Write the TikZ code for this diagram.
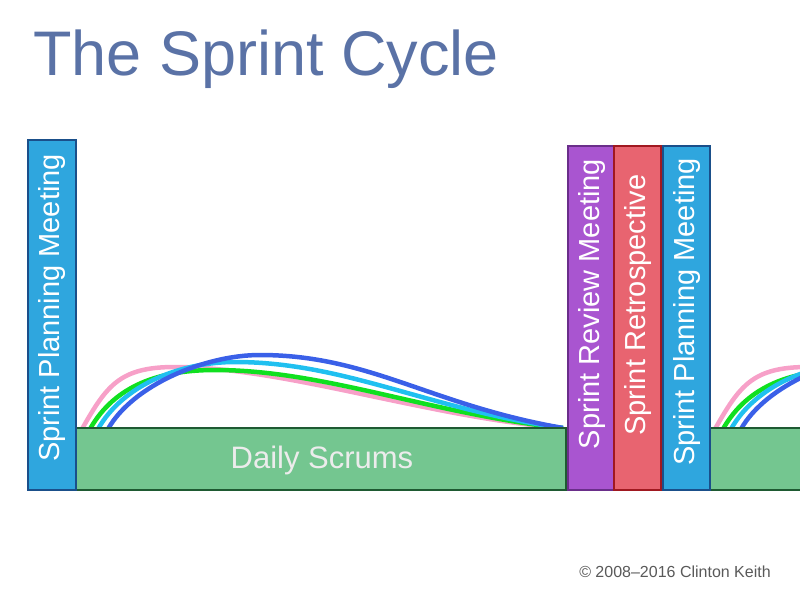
\documentclass[tikz,border=0pt]{standalone}
\usepackage{fontspec}
\setmainfont{Liberation Sans}
\begin{document}
\begin{tikzpicture}[x=1pt,y=-1pt,
  bar/.style={line width=2.5pt},
  vt/.style={rotate=90,text=white,font=\fontsize{29}{29}\selectfont,inner sep=0pt},
  cv/.style={line width=4.5pt}]
\useasboundingbox (0,0) rectangle (800,600);
\definecolor{gfill}{HTML}{74C690}\definecolor{gline}{HTML}{1E5A32}
\definecolor{bfill}{HTML}{2FA6DE}\definecolor{bline}{HTML}{1A4F8A}
\definecolor{pfill}{HTML}{A955D0}\definecolor{pline}{HTML}{6A2E8A}
\definecolor{rfill}{HTML}{E86470}\definecolor{rline}{HTML}{A01820}
\definecolor{pink}{HTML}{F7A0C8}\definecolor{grn}{HTML}{10E020}
\definecolor{cyn}{HTML}{20C0F0}\definecolor{blu}{HTML}{3A60E8}
\definecolor{tcol}{HTML}{5A72A6}
\node[anchor=base west,inner sep=0pt,text=tcol,font=\fontsize{63}{63}\selectfont] (title) at (33,75) {The Sprint Cycle};
\begin{scope}
\clip (0,0) rectangle (800,427);
\foreach \s/\c/\py/\px/\ey in {82/pink/367/175/418, 90/grn/370/215/414, 98/cyn/362/235/410, 108/blu/355/260/405}{
  \draw[cv,\c] (\s,429) .. controls (\s+25,385) and (\px-55,\py) .. (\px,\py)
     .. controls (\px+110,\py) and (430,\ey) .. (563,428);
  \draw[cv,\c] (\s+633,429) .. controls (\s+658,385) and (\px+578,\py) .. (\px+633,\py) -- (\px+700,\py);
}
\end{scope}
\draw[bar,fill=gfill,draw=gline] (76,428) rectangle (566,490);
\node[text=gray!15,font=\fontsize{31}{31}\selectfont] (ds) at (322,460) {Daily Scrums};
\draw[bar,fill=gfill,draw=gline] (710,428) rectangle (802,490);
\draw[bar,fill=bfill,draw=bline] (28,140) rectangle (76,490);
\node[vt] (sp1) at (52,308) {Sprint Planning Meeting};
\draw[bar,fill=pfill,draw=pline] (568,146) rectangle (614,490);
\node[vt] (rv) at (592,304) {Sprint Review Meeting};
\draw[bar,fill=rfill,draw=rline] (614,146) rectangle (661,490);
\node[vt] (rt) at (638,305) {Sprint Retrospective};
\draw[bar,fill=bfill,draw=bline] (663,146) rectangle (710,490);
\node[vt] (sp2) at (687,312) {Sprint Planning Meeting};
\node[text=gray!70!black,font=\fontsize{16}{16}\selectfont] (cr) at (675,572) {© 2008–2016 Clinton Keith};
\end{tikzpicture}
\end{document}
